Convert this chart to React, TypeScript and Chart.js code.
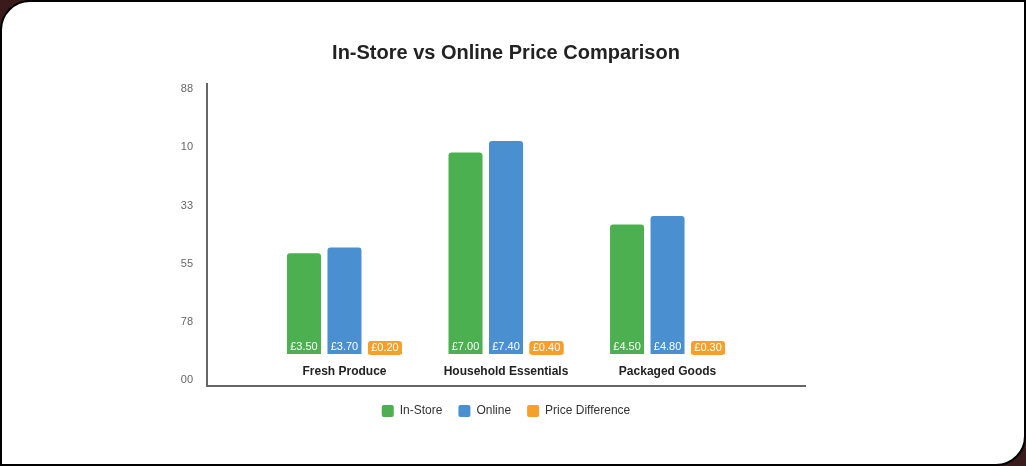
import { useEffect, useRef } from 'react'
import { Chart, registerables } from 'chart.js'

Chart.register(...registerables)

// categories and series
const categories = ['Fresh Produce', 'Household Essentials', 'Packaged Goods']
const inStore = [3.5, 7.0, 4.5]
const online = [3.7, 7.4, 4.8]
const priceDiff = [0.2, 0.4, 0.3]

// y axis ticks, bottom to top (labels as printed in the source)
const yTickValues = [-0.9, 1.12, 3.14, 5.16, 7.18, 9.2]
const yTickLabels = ['00', '78', '55', '33', '10', '88']

const GREEN = '#4caf50'
const BLUE = '#4a8fd0'
const ORANGE = '#f6a02c'
const FONT = "'Liberation Sans', Arial, Helvetica, sans-serif"

const fmt = (v: number) => `£${v.toFixed(2)}`

// draws value tags at the foot of each bar and the category names under the groups
const labelPlugin = {
  id: 'barLabels',
  afterDatasetsDraw(chart: any) {
    const { ctx } = chart
    const xScale = chart.scales.x
    const yScale = chart.scales.y
    const base = yScale.getPixelForValue(0)
    ctx.save()
    ctx.textAlign = 'center'
    ctx.textBaseline = 'middle'
    ctx.font = `11px ${FONT}`
    chart.data.datasets.forEach((ds: any, di: number) => {
      const meta = chart.getDatasetMeta(di)
      meta.data.forEach((bar: any, i: number) => {
        const v = ds.data[i].y
        if (di === 2) {
          ctx.fillStyle = ORANGE
          ctx.beginPath()
          ctx.roundRect(bar.x - 17, base - 13, 34, 14, 3)
          ctx.fill()
          ctx.fillStyle = '#fff'
          ctx.fillText(fmt(v), bar.x, base - 6.5)
        } else {
          ctx.fillStyle = '#fff'
          ctx.fillText(fmt(v), bar.x, base - 7.5)
        }
      })
    })
    ctx.font = `bold 12px ${FONT}`
    ctx.fillStyle = '#222'
    categories.forEach((c, i) => {
      ctx.fillText(c, xScale.getPixelForValue(i), base + 17.5)
    })
    ctx.restore()
  },
}

export default function App() {
  const canvasRef = useRef<HTMLCanvasElement>(null)
  const chartRef = useRef<Chart | null>(null)

  useEffect(() => {
    document.body.style.margin = '0'
    if (!canvasRef.current) return
    const ctx = canvasRef.current.getContext('2d')
    if (!ctx) return

    chartRef.current = new Chart(ctx, {
      type: 'bar',
      data: {
        datasets: [
          { label: 'In-Store', data: inStore.map((v, i) => ({ x: i, y: v })), backgroundColor: GREEN },
          { label: 'Online', data: online.map((v, i) => ({ x: i, y: v })), backgroundColor: BLUE },
          { label: 'Price Difference', data: priceDiff.map((v, i) => ({ x: i, y: v })), backgroundColor: ORANGE },
        ].map(d => ({
          ...d,
          borderRadius: 3,
          borderSkipped: 'start',
          categoryPercentage: 0.752,
          barPercentage: 0.84,
        })) as any,
      },
      options: {
        responsive: true,
        maintainAspectRatio: false,
        animation: false,
        layout: { padding: { left: 150, right: 221, top: 0, bottom: 39 } },
        plugins: {
          title: {
            display: true,
            fullSize: false,
            text: 'In-Store vs Online Price Comparison',
            color: '#222',
            font: { size: 20, weight: 'bold', family: FONT },
            padding: { top: 41, bottom: 19 },
          },
          legend: {
            position: 'bottom',
            fullSize: false,
            labels: {
              boxWidth: 12,
              boxHeight: 12,
              useBorderRadius: true,
              borderRadius: 2,
              padding: 16,
              color: '#333',
              font: { size: 12, family: FONT },
            },
          },
          tooltip: { enabled: false },
        },
        scales: {
          x: {
            type: 'linear',
            offset: false,
            min: -0.851,
            max: 2.851,
            afterBuildTicks: (s: any) => {
              s.ticks = categories.map((_c, i) => ({ value: i }))
            },
            afterFit: (s: any) => {
              s.height = 3
            },
            ticks: { display: false },
            grid: { display: false, drawTicks: false, offset: false },
            border: { display: true, color: '#666', width: 2 },
          },
          y: {
            min: -1.107,
            max: 9.38,
            afterBuildTicks: (s: any) => {
              s.ticks = yTickValues.map(v => ({ value: v }))
            },
            afterFit: (s: any) => {
              s.width = 57
            },
            ticks: {
              color: '#666',
              padding: 14,
              font: { size: 11, family: FONT },
              callback: (_v: any, i: number) => yTickLabels[i],
            },
            grid: { display: false, drawTicks: false },
            border: { display: true, color: '#666', width: 2 },
          },
        },
      },
      plugins: [labelPlugin],
    } as any)

    return () => {
      chartRef.current?.destroy()
      chartRef.current = null
    }
  }, [])

  return (
    <div style={{ position: 'relative', width: 1026, height: 466, background: '#3b1a1c' }}>
      <div
        style={{
          position: 'absolute',
          inset: 0,
          background: '#fff',
          border: '2px solid #000',
          borderRadius: '30px 0 30px 0',
        }}
      />
      <div style={{ position: 'absolute', left: 0, top: 0, width: 1026, height: 466 }}>
        <canvas ref={canvasRef} role="img" aria-label="In-Store vs Online Price Comparison" />
      </div>
    </div>
  )
}
